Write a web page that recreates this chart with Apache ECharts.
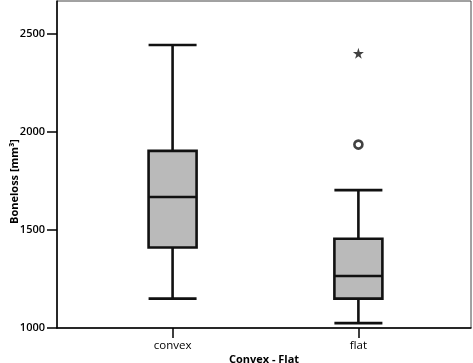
<!DOCTYPE html>
<html>
<head>
<meta charset="utf-8">
<script src="https://cdn.jsdelivr.net/npm/echarts@6/dist/echarts.min.js"></script>
<style>html,body{margin:0;padding:0;background:#fff;}#c{width:473px;height:363px;}</style>
</head>
<body>
<div id="c"></div>
<script>
const categories = ['convex', 'flat'];
const whiskerLow = [1150, 1025];
const quartile1 = [1410, 1150];
const medians = [1668, 1265];
const quartile3 = [1903, 1455];
const whiskerHigh = [2443, 1703];
const circleOutliers = [[1, 1935]];
const starOutliers = [[1, 2400]];
const yTicks = [1000, 1500, 2000, 2500];

const boxData = categories.map((c, i) => [i, whiskerLow[i], quartile1[i], medians[i], quartile3[i], whiskerHigh[i]]);
const font = '"Open Sans", "DejaVu Sans", sans-serif';

const chart = echarts.init(document.getElementById('c'), null, {renderer: 'canvas'});
chart.setOption({
  animation: false,
  backgroundColor: '#fff',
  grid: {left: 57, top: 1, right: 2, bottom: 35, show: true, borderColor: '#444', borderWidth: 1, backgroundColor: 'transparent', outerBoundsMode: 'none', containLabel: false},
  xAxis: {
    type: 'value', min: -0.622, max: 1.606,
    name: 'Convex - Flat', nameLocation: 'middle', nameGap: 26, nameMoveOverlap: false,
    nameTextStyle: {fontFamily: font, fontWeight: 'bold', fontSize: 11, color: '#000'},
    axisLine: {show: true, onZero: false, lineStyle: {color: '#000', width: 1.5}},
    axisTick: {show: true, customValues: [0, 1], length: 10, lineStyle: {color: '#000', width: 1.5}},
    axisLabel: {customValues: [0, 1], formatter: v => categories[Math.round(v)] || '', fontFamily: font, fontSize: 11.5, color: '#000', margin: 12},
    splitLine: {show: false}
  },
  yAxis: {
    type: 'value', min: 1000, max: 2667,
    name: 'Boneloss [mm³]', nameLocation: 'middle', nameGap: 37, nameMoveOverlap: false,
    nameTextStyle: {fontFamily: font, fontWeight: 'bold', fontSize: 11, color: '#000', padding: [0, 34, 0, 0]},
    axisLine: {show: true, onZero: false, lineStyle: {color: '#000', width: 1.5}},
    axisTick: {show: true, customValues: yTicks, length: 10, lineStyle: {color: '#000', width: 1.5}},
    axisLabel: {customValues: yTicks, formatter: v => String(v), fontFamily: font, fontWeight: 600, fontSize: 11, color: '#000', margin: 12},
    splitLine: {show: false}
  },
  series: [
    {
      type: 'boxplot',
      data: boxData,
      boxWidth: [48, 48],
      itemStyle: {color: '#bababa', borderColor: '#111', borderWidth: 2.6}
    },
    {
      type: 'scatter',
      data: circleOutliers,
      symbol: 'circle', symbolSize: 8,
      itemStyle: {color: '#fff', borderColor: '#111', borderWidth: 2.6}
    },
    {
      type: 'scatter',
      data: starOutliers,
      symbol: 'path://M50,0 L61,35 L98,35 L68,57 L79,91 L50,70 L21,91 L32,57 L2,35 L39,35 Z',
      symbolSize: 11,
      itemStyle: {color: '#111'}
    }
  ]
});
</script>
</body>
</html>
